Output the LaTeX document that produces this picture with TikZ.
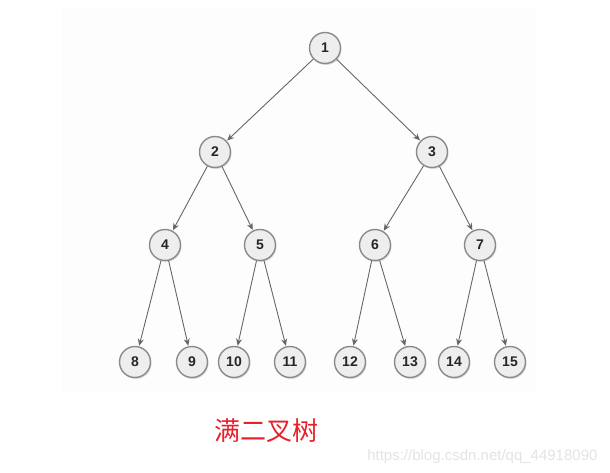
\documentclass[tikz,border=0pt]{standalone}
\usepackage{fontspec}
\setmainfont{Liberation Sans}
\newfontfamily\cjk{Noto Sans CJK SC}
\usetikzlibrary{arrows.meta,shadows}
\definecolor{nodefill}{HTML}{EEEEEE}
\definecolor{nodeline}{HTML}{8A8A8A}
\definecolor{edgeline}{HTML}{666666}
\definecolor{capred}{HTML}{E8202A}
\tikzset{
  treenode/.style={circle,draw=nodeline,line width=1.4pt,fill=nodefill,
    minimum size=31pt,inner sep=0pt,text=black!85,
    font=\fontsize{14}{16}\selectfont\bfseries,
    drop shadow={shadow xshift=1pt,shadow yshift=-1.5pt,opacity=0.25}},
  treeedge/.style={draw=edgeline,line width=0.9pt,
    -{Stealth[length=7pt,width=6pt]},shorten >=0.5pt}
}
\begin{document}
\begin{tikzpicture}[x=1pt,y=-1pt]
                \useasboundingbox (0,0) rectangle (610,473);
                \fill[gray!1.5] (62,8) rectangle (535,392); % panel
                
                \node[treenode] (n1) at (325,48) {1}; % root
                
                \node[treenode] (n2) at (215,152) {2};
                \node[treenode] (n3) at (432,152) {3};
                
                \node[treenode] (n4) at (165,245) {4};
                \node[treenode] (n5) at (260,245) {5};
                \node[treenode] (n6) at (375,245) {6};
                \node[treenode] (n7) at (480,245) {7};
                
                \node[treenode] (n8) at (135,362) {8}; % leaves
                \node[treenode] (n9) at (192,362) {9};
                \node[treenode] (n10) at (234,362) {10};
                \node[treenode] (n11) at (290,362) {11};
                \node[treenode] (n12) at (350,362) {12};
                \node[treenode] (n13) at (410,362) {13};
                \node[treenode] (n14) at (454,362) {14};
                \node[treenode] (n15) at (510,362) {15};
                
                \draw[treeedge] (n1) -- (n2);
                \draw[treeedge] (n1) -- (n3);
                
                \draw[treeedge] (n2) -- (n4);
                \draw[treeedge] (n2) -- (n5);
                \draw[treeedge] (n3) -- (n6);
                \draw[treeedge] (n3) -- (n7);
                
                \draw[treeedge] (n4) -- (n8);
                \draw[treeedge] (n4) -- (n9);
                \draw[treeedge] (n5) -- (n10);
                \draw[treeedge] (n5) -- (n11);
                \draw[treeedge] (n6) -- (n12);
                \draw[treeedge] (n6) -- (n13);
                \draw[treeedge] (n7) -- (n14);
                \draw[treeedge] (n7) -- (n15);
                
                \node[text=capred,font=\cjk\fontsize{26}{30}\selectfont] (caption) at (266,431) {满二叉树}; % caption
                
                \node[text=gray!22,font=\fontsize{15}{18}\selectfont,anchor=east] (mark) at (601,457) {https://blog.csdn.net/qq\_44918090}; % watermark
\end{tikzpicture}
\end{document}
